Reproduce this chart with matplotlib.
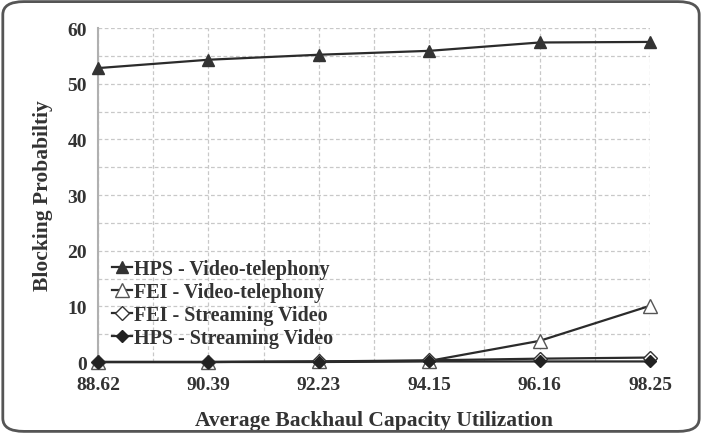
import numpy as np
import matplotlib
matplotlib.use("Agg")
import matplotlib.pyplot as plt
from matplotlib.patches import FancyBboxPatch

utilization = ["88.62", "90.39", "92.23", "94.15", "96.16", "98.25"]
hps_vt = [52.8, 54.3, 55.2, 55.9, 57.4, 57.5]
fei_vt = [0.0, 0.0, 0.1, 0.2, 3.8, 10.1]
fei_sv = [0.0, 0.0, 0.1, 0.3, 0.6, 0.8]
hps_sv = [0.0, 0.0, 0.0, 0.1, 0.1, 0.1]

plt.rcParams['font.family'] = ['Liberation Serif', 'DejaVu Serif']
plt.rcParams['font.weight'] = 'bold'

fig = plt.figure(figsize=(7.02, 4.35), dpi=100)
ax = fig.add_axes([0.1396, 0.1655, 0.7864, 0.7678])

x = np.arange(len(utilization))
lc = '#2b2b2b'
ax.plot(x, hps_vt, color=lc, lw=1.6, marker='^', ms=9, mfc='#333333', mec='#333333',
        label='HPS - Video-telephony', zorder=3, clip_on=False)
ax.plot(x, fei_vt, color=lc, lw=1.6, marker='^', ms=10, mfc='white', mec='#555555',
        label='FEI - Video-telephony', zorder=3, clip_on=False)
ax.plot(x, fei_sv, color=lc, lw=1.6, marker='D', ms=7, mfc='white', mec='#333333',
        label='FEI - Streaming Video', zorder=4, clip_on=False)
ax.plot(x, hps_sv, color=lc, lw=1.6, marker='D', ms=6, mfc='#222222', mec='#222222',
        label='HPS - Streaming Video', zorder=5, clip_on=False)

ax.set_xlim(0, 5)
ax.set_ylim(0, 60)
ax.set_xticks(x)
ax.set_xticklabels(utilization)
ax.set_yticks(np.arange(0, 61, 10))
ax.set_yticks(np.arange(0, 61, 5), minor=True)
ax.set_xticks(np.arange(0, 5.01, 0.5), minor=True)
ax.grid(which='both', color='#c8c8c8', linestyle=(0, (3, 2)), lw=0.9)
ax.tick_params(which='both', length=0, labelsize=14, colors='#333333')
ax.tick_params(axis='x', pad=10)
ax.tick_params(axis='y', pad=8)
for lab in ax.get_xticklabels() + ax.get_yticklabels():
    lab.set_fontweight('bold')

for side in ['top', 'right', 'bottom']:
    ax.spines[side].set_visible(False)
ax.spines['left'].set_color('#b0b0b0')
ax.spines['left'].set_linewidth(1.5)

ax.set_xlabel('Average Backhaul Capacity Utilization', fontsize=15.5, fontweight='bold',
              color='#333333', labelpad=12)
ax.set_ylabel('Blocking Probabiltiy', fontsize=15.5, fontweight='bold',
              color='#333333', labelpad=10)

leg = ax.legend(loc='lower left', bbox_to_anchor=(0.0, 0.0),
                frameon=False, fontsize=14.5, handlelength=1.0, handletextpad=0.1,
                labelspacing=0.15, borderaxespad=0.3)
for t in leg.get_texts():
    t.set_color('#333333')

border = FancyBboxPatch((0.004, 0.006), 0.992, 0.988, transform=fig.transFigure,
                        boxstyle='round,pad=0,rounding_size=0.03', fill=False,
                        ec='#555555', lw=2.0)
fig.patches.append(border)

fig.savefig('out.png', dpi=100)
